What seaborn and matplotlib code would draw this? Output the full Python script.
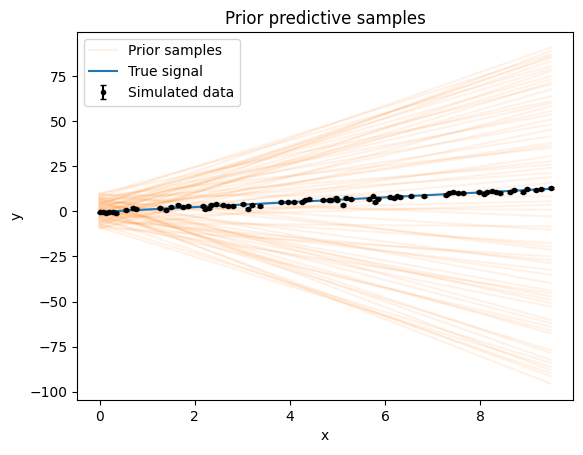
import numpy as np
import pandas as pd
import seaborn as sns
import matplotlib.pyplot as plt

# x range of the prior lines
x_start = 0.0
x_end = 9.48

# prior sample lines: value at x=0 and value at x=9.48
prior_start = [3.5, -6.0, 8.0, 1.0, -2.5, 9.5, -8.0, 4.5, -1.0, 6.0,
               -4.5, 2.0, 10.0, -9.5, 0.5, 7.0, -3.0, 5.0, -7.0, 3.0,
               -0.5, 8.5, -5.5, 1.5, 6.5, -2.0, 4.0, -8.5, 9.0, 0.0,
               -3.5, 2.5, 7.5, -6.5, 5.5, -1.5, 9.8, -9.0, 3.8, -4.0,
               1.2, 6.8, -7.5, 0.8, 4.8, -2.8, 8.2, -5.0, 2.2, -0.2,
               5.8, -8.8, 7.2, -3.8, 1.8,
               -1.2, 4.2, -6.2, 2.8, 0.3, -3.2, 6.2, -4.8, 1.6, -0.8,
               3.2, -2.2, 5.2, -7.2, 0.6]
prior_end = [90.8, 88.9, 87.0, 85.2, 83.3, 80.6, 77.8, 75.0, 73.2, 70.4,
             67.6, 63.9, 61.1, 58.3, 55.6, 53.7, 50.9, 48.2, 45.4, 41.7,
             38.0, 35.2, 30.6, 27.8, 25.9, 24.1, 21.3, 15.8, 8.3, 5.6,
             3.7, 0.9, -2.8, -8.3, -10.2, -17.6, -21.3, -25.0, -28.7, -32.4,
             -35.2, -39.8, -45.4, -47.2, -50.9, -52.8, -60.2, -63.9, -67.6, -76.9,
             -82.4, -86.1, -88.0, -89.8, -95.5,
             86.0, 79.0, 71.5, 60.0, 36.5, 19.0, -19.5, -27.0, -44.0, -49.0,
             -62.0, -66.0, -78.5, -84.0, -91.5]

# true signal
true_x = [0.0, 9.48]
true_y = [-0.3, 12.5]

# simulated data
data_x = [0.02, 0.08, 0.14, 0.21, 0.28, 0.35, 0.55, 0.70, 0.77, 1.28,
          1.39, 1.51, 1.66, 1.75, 1.86, 2.17, 2.22, 2.31, 2.35, 2.45,
          2.59, 2.70, 2.80, 3.01, 3.12, 3.20, 3.38, 3.81, 3.97, 4.09,
          4.25, 4.32, 4.40, 4.69, 4.83, 4.86, 4.97, 5.00, 5.12, 5.18,
          5.28, 5.67, 5.74, 5.79, 5.86, 6.11, 6.19, 6.26, 6.32, 6.54,
          6.82, 7.28, 7.35, 7.44, 7.54, 7.63, 7.98, 8.08, 8.15, 8.24,
          8.33, 8.42, 8.63, 8.71, 8.91, 8.99, 9.17, 9.27, 9.48]
data_y = [-0.6, -0.3, -0.8, -0.4, -0.5, -0.7, 0.8, 1.9, 1.3, 1.9,
          0.6, 2.4, 3.7, 2.4, 2.8, 2.8, 1.3, 1.9, 3.7, 4.3,
          3.7, 3.2, 2.8, 4.3, 1.3, 3.7, 3.2, 5.2, 5.2, 5.2,
          5.2, 6.1, 6.9, 6.1, 6.4, 6.5, 7.4, 6.1, 3.7, 7.4,
          6.9, 6.9, 8.3, 5.2, 7.1, 8.0, 7.4, 8.3, 7.8, 8.7,
          8.7, 8.9, 10.2, 10.8, 10.2, 10.2, 10.6, 9.8, 10.6, 11.1,
          10.6, 10.2, 10.6, 11.7, 10.8, 12.6, 11.7, 12.4, 13.0]
data_err = 0.5

fig = plt.figure(figsize=(5.83, 4.55), dpi=100)
ax = fig.add_axes([0.132, 0.121, 0.851, 0.809])

for i, (a, b) in enumerate(zip(prior_start, prior_end)):
    sns.lineplot(x=[x_start, x_end], y=[a, b], color='C1', alpha=0.1,
                 ax=ax, label='Prior samples' if i == 0 else None)

sns.lineplot(x=true_x, y=true_y, color='C0', ax=ax, label='True signal')

ax.errorbar(data_x, data_y, yerr=data_err, fmt='k.', capsize=2,
            label='Simulated data')

ax.set_ylim(-104.6, 99.6)
ax.set_title('Prior predictive samples')
ax.set_xlabel('x')
ax.set_ylabel('y')
ax.legend(loc='upper left')

fig.savefig('out.png', dpi=100)
